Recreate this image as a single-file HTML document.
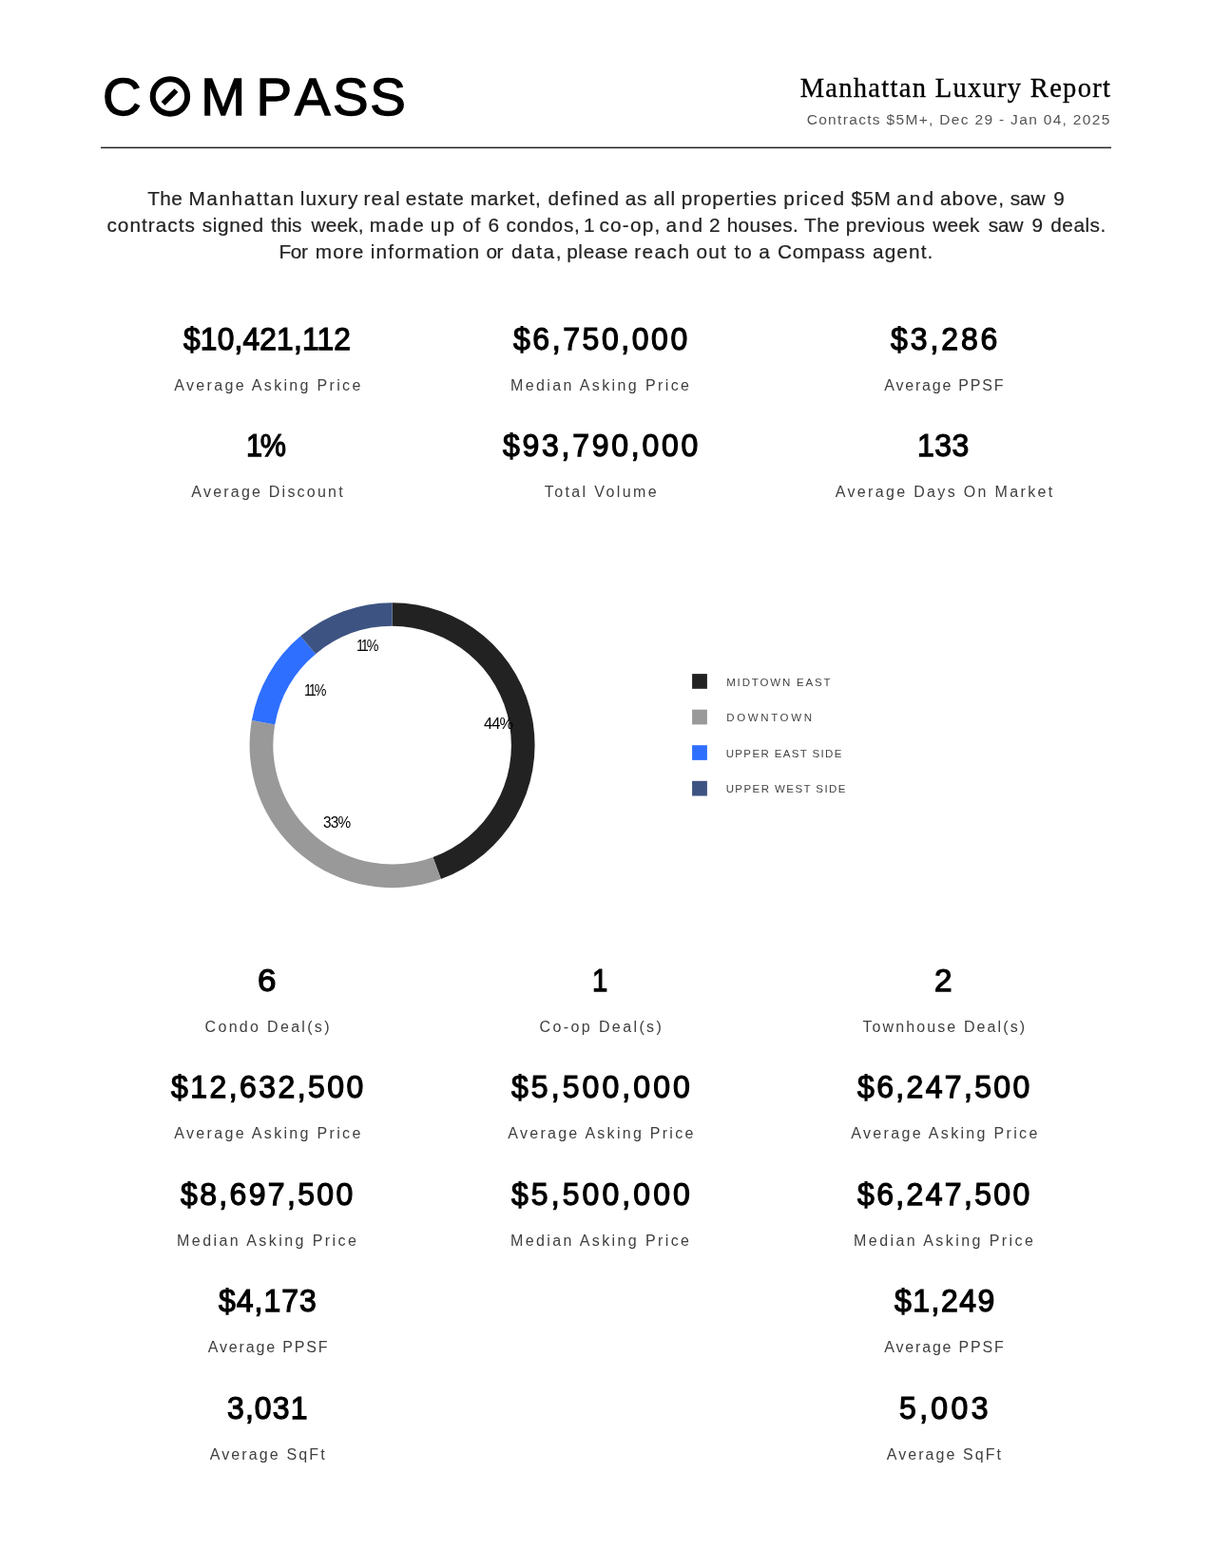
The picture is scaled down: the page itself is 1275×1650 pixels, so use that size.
<!DOCTYPE html>
<html lang="en">
<head>
<meta charset="utf-8">
<title>Manhattan Luxury Report</title>
<style>
html,body{margin:0;padding:0;background:#fff}
body{width:1275px;height:1650px;position:relative;overflow:hidden}
header,main,section,p,h1{margin:0;padding:0;display:block}
.t{position:absolute;white-space:nowrap;margin:0;font-kerning:normal;transform-origin:0 0}
.title{font:400 28.5px/34px "Liberation Serif", "Times New Roman", serif;color:#000;-webkit-text-stroke:0.35px #000;}
.sub{font:400 15.5px/20px "Liberation Sans", Arial, sans-serif;color:#555;}
.p{font:400 20.8px/28px "Liberation Sans", Arial, sans-serif;color:#222;-webkit-text-stroke:0.2px #222;}
.v{font:400 34px/40px "Liberation Sans", Arial, sans-serif;color:#000;-webkit-text-stroke:1.25px #000;}
.l{font:400 16px/20px "Liberation Sans", Arial, sans-serif;color:#404040;}
.d{font:400 16.8px/20px "Liberation Sans", Arial, sans-serif;color:#000;}
.g{font:400 11.5px/16px "Liberation Sans", Arial, sans-serif;color:#444;}
.w{display:inline-block;white-space:nowrap;transform-origin:0 0}
svg{position:absolute;left:0;top:0;overflow:visible}
</style>
</head>
<body>
<header>
<svg class="logo" width="1275" height="160" viewBox="0 0 1275 160" role="img" aria-label="COMPASS"><text transform="scale(1.01 1)" x="106.99 155.33 209.13 266.88 306.90 346.60 385.47" y="121.1" font-family="Liberation Sans, Arial, sans-serif" font-weight="400" font-size="55.8" fill="#000" stroke="#000" stroke-width="1.3" stroke-linejoin="miter">COMPASS</text><circle cx="178.9" cy="101.55" r="21.2" fill="#fff"/><circle cx="178.9" cy="101.55" r="18.2" fill="none" stroke="#000" stroke-width="6"/><path d="M169.6 107.1 L173.5 111.0 L187.4 97.1 L183.5 93.2 Z" fill="#000"/></svg>
<h1 class="t title" style="left:841.63px;top:76.00px;letter-spacing:1.305px;">Manhattan Luxury Report</h1>
<div class="t sub" style="left:848.67px;top:116.00px;letter-spacing:1.325px;">Contracts $5M+, Dec 29 - Jan 04, 2025</div>
<svg class="rule" width="1275" height="160" viewBox="0 0 1275 160"><rect x="106" y="154.65" width="1063" height="1.5" fill="#222"/></svg>
</header>
<main>
<p class="intro">
<span class="t p" style="left:155.18px;top:195.00px;"><span class="w" style="width:37.51px;letter-spacing:0.363px;">The</span> <span class="w" style="width:111.55px;letter-spacing:1.538px;">Manhattan</span> <span class="w" style="width:60.82px;letter-spacing:1.043px;">luxury</span> <span class="w" style="width:38.67px;letter-spacing:1.196px;">real</span> <span class="w" style="width:62.17px;letter-spacing:0.846px;">estate</span> <span class="w" style="width:75.87px;letter-spacing:0.785px;">market,</span> <span class="w" style="width:75.62px;letter-spacing:1.063px;">defined</span> <span class="w" style="width:23.82px;letter-spacing:0.732px;">as</span> <span class="w" style="width:23.57px;letter-spacing:1.005px;">all</span> <span class="w" style="width:101.82px;letter-spacing:0.862px;">properties</span> <span class="w" style="width:65.52px;letter-spacing:1.403px;">priced</span> <span class="w" style="width:41.57px;letter-spacing:0.370px;">$5M</span> <span class="w" style="width:40.22px;letter-spacing:2.157px;">and</span> <span class="w" style="width:67.95px;letter-spacing:0.911px;">above,</span> <span class="w" style="width:39.69px;letter-spacing:-0.059px;">saw</span> <span class="w" style="">9</span></span>
<span class="t p" style="left:112.45px;top:223.00px;"><span class="w" style="width:94.55px;letter-spacing:1.014px;">contracts</span> <span class="w" style="width:66.54px;letter-spacing:0.600px;">signed</span> <span class="w" style="width:36.74px;letter-spacing:0.027px;">this</span> <span class="w" style="width:55.40px;letter-spacing:0.123px;">week,</span> <span class="w" style="width:58.22px;letter-spacing:1.638px;">made</span> <span class="w" style="width:27.87px;letter-spacing:2.207px;">up</span> <span class="w" style="width:21.42px;letter-spacing:1.432px;">of</span> <span class="w" style="width:13.02px;">6</span> <span class="w" style="width:75.76px;letter-spacing:0.776px;">condos,</span> <span class="w" style="width:10.68px;">1</span> <span class="w" style="width:64.22px;letter-spacing:1.239px;">co-op,</span> <span class="w" style="width:39.92px;letter-spacing:1.957px;">and</span> <span class="w" style="width:12.87px;">2</span> <span class="w" style="width:75.59px;letter-spacing:0.355px;">houses.</span> <span class="w" style="width:37.85px;letter-spacing:0.563px;">The</span> <span class="w" style="width:85.84px;letter-spacing:0.647px;">previous</span> <span class="w" style="width:52.58px;letter-spacing:0.198px;">week</span> <span class="w" style="width:40.09px;letter-spacing:-0.059px;">saw</span> <span class="w" style="width:14.02px;">9</span> <span class="w" style="letter-spacing:0.485px;">deals.</span></span>
<span class="t p" style="left:293.48px;top:251.00px;"><span class="w" style="width:32.54px;letter-spacing:-0.337px;">For</span> <span class="w" style="width:52.22px;letter-spacing:1.051px;">more</span> <span class="w" style="width:115.87px;letter-spacing:1.138px;">information</span> <span class="w" style="width:20.82px;letter-spacing:-0.543px;">or</span> <span class="w" style="width:52.37px;letter-spacing:1.536px;">data,</span> <span class="w" style="width:65.22px;letter-spacing:0.650px;">please</span> <span class="w" style="width:59.47px;letter-spacing:1.459px;">reach</span> <span class="w" style="width:34.27px;letter-spacing:1.232px;">out</span> <span class="w" style="width:20.05px;letter-spacing:0.896px;">to</span> <span class="w" style="width:14.01px;">a</span> <span class="w" style="width:94.15px;letter-spacing:0.662px;">Compass</span> <span class="w" style="letter-spacing:1.100px;">agent.</span></span>
</p>
<section class="summary">
<div class="t v" style="left:192.73px;top:336.00px;letter-spacing:0.200px;transform:scaleX(0.9326);">$10,421,112</div>
<div class="t l" style="left:183.30px;top:396.00px;letter-spacing:2.329px;">Average Asking Price</div>
<div class="t v" style="left:258.65px;top:448.00px;letter-spacing:-2.500px;transform:scaleX(0.9000);">1%</div>
<div class="t l" style="left:201.30px;top:508.00px;letter-spacing:2.223px;">Average Discount</div>
<div class="t v" style="left:539.93px;top:336.00px;letter-spacing:2.755px;transform:scaleX(0.9400);">$6,750,000</div>
<div class="t l" style="left:537.05px;top:396.00px;letter-spacing:2.385px;">Median Asking Price</div>
<div class="t v" style="left:528.93px;top:448.00px;letter-spacing:2.929px;transform:scaleX(0.9400);">$93,790,000</div>
<div class="t l" style="left:572.75px;top:508.00px;letter-spacing:2.390px;">Total Volume</div>
<div class="t v" style="left:936.63px;top:336.00px;letter-spacing:3.108px;transform:scaleX(0.9400);">$3,286</div>
<div class="t l" style="left:930.30px;top:396.00px;letter-spacing:1.789px;">Average PPSF</div>
<div class="t v" style="left:965.29px;top:448.00px;letter-spacing:0.572px;transform:scaleX(0.9400);">133</div>
<div class="t l" style="left:878.70px;top:508.00px;letter-spacing:2.343px;">Average Days On Market</div>
</section>
<section class="chart">
<svg width="1275" height="1650" viewBox="0 0 1275 1650">
<path d="M412.60 634.15A150 150 0 0 1 463.90 925.10L455.46 901.89A125.3 125.3 0 0 0 412.60 658.85Z" fill="#222222"/>
<path d="M463.90 925.10A150 150 0 0 1 264.88 758.10L289.20 762.39A125.3 125.3 0 0 0 455.46 901.89Z" fill="#999999"/>
<path d="M264.88 758.10A150 150 0 0 1 316.18 669.24L332.06 688.16A125.3 125.3 0 0 0 289.20 762.39Z" fill="#2e6fff"/>
<path d="M316.18 669.24A150 150 0 0 1 412.60 634.15L412.60 658.85A125.3 125.3 0 0 0 332.06 688.16Z" fill="#3d5382"/>
</svg>
<div class="t d" style="left:509.34px;top:752.00px;letter-spacing:-0.900px;transform:scaleX(0.9723);">44%</div>
<div class="t d" style="left:340.42px;top:856.00px;letter-spacing:-0.900px;transform:scaleX(0.9156);">33%</div>
<div class="t d" style="left:320.25px;top:717.00px;letter-spacing:-2.400px;transform:scaleX(0.8500);">11%</div>
<div class="t d" style="left:375.35px;top:670.00px;letter-spacing:-2.400px;transform:scaleX(0.8500);">11%</div>
<svg class="legend" width="1275" height="1650" viewBox="0 0 1275 1650">
<rect x="728.1" y="709.1" width="15.8" height="15.7" fill="#222222"/>
<rect x="728.1" y="746.7" width="15.8" height="15.7" fill="#999999"/>
<rect x="728.1" y="784.2" width="15.8" height="15.7" fill="#2e6fff"/>
<rect x="728.1" y="821.8" width="15.8" height="15.7" fill="#3d5382"/>
</svg>
<div class="t g" style="left:764.20px;top:710.00px;letter-spacing:1.836px;">MIDTOWN EAST</div>
<div class="t g" style="left:764.20px;top:747.00px;letter-spacing:2.639px;">DOWNTOWN</div>
<div class="t g" style="left:763.65px;top:785.00px;letter-spacing:1.367px;">UPPER EAST SIDE</div>
<div class="t g" style="left:763.65px;top:822.00px;letter-spacing:1.425px;">UPPER WEST SIDE</div>
</section>
<section class="breakdown">
<div class="t v" style="left:271.31px;top:1011.00px;transform:scaleX(1.0300);">6</div>
<div class="t l" style="left:215.55px;top:1071.00px;letter-spacing:2.318px;">Condo Deal(s)</div>
<div class="t v" style="left:179.93px;top:1123.00px;letter-spacing:2.610px;transform:scaleX(0.9400);">$12,632,500</div>
<div class="t l" style="left:183.30px;top:1183.00px;letter-spacing:2.329px;">Average Asking Price</div>
<div class="t v" style="left:189.93px;top:1236.00px;letter-spacing:2.518px;transform:scaleX(0.9400);">$8,697,500</div>
<div class="t l" style="left:186.05px;top:1296.00px;letter-spacing:2.441px;">Median Asking Price</div>
<div class="t v" style="left:229.93px;top:1348.00px;letter-spacing:1.065px;transform:scaleX(0.9400);">$4,173</div>
<div class="t l" style="left:218.70px;top:1408.00px;letter-spacing:1.844px;">Average PPSF</div>
<div class="t v" style="left:238.89px;top:1461.00px;letter-spacing:1.176px;transform:scaleX(0.9400);">3,031</div>
<div class="t l" style="left:220.70px;top:1521.00px;letter-spacing:2.128px;">Average SqFt</div>
<div class="t v" style="left:622.68px;top:1011.00px;transform:scaleX(0.8600);">1</div>
<div class="t l" style="left:567.55px;top:1071.00px;letter-spacing:2.391px;">Co-op Deal(s)</div>
<div class="t v" style="left:537.63px;top:1123.00px;letter-spacing:3.298px;transform:scaleX(0.9400);">$5,500,000</div>
<div class="t l" style="left:534.30px;top:1183.00px;letter-spacing:2.277px;">Average Asking Price</div>
<div class="t v" style="left:537.63px;top:1236.00px;letter-spacing:3.298px;transform:scaleX(0.9400);">$5,500,000</div>
<div class="t l" style="left:537.05px;top:1296.00px;letter-spacing:2.385px;">Median Asking Price</div>
<div class="t v" style="left:983.28px;top:1011.00px;transform:scaleX(0.9800);">2</div>
<div class="t l" style="left:907.45px;top:1071.00px;letter-spacing:2.108px;">Townhouse Deal(s)</div>
<div class="t v" style="left:901.93px;top:1123.00px;letter-spacing:2.518px;transform:scaleX(0.9400);">$6,247,500</div>
<div class="t l" style="left:895.30px;top:1183.00px;letter-spacing:2.329px;">Average Asking Price</div>
<div class="t v" style="left:901.93px;top:1236.00px;letter-spacing:2.518px;transform:scaleX(0.9400);">$6,247,500</div>
<div class="t l" style="left:898.05px;top:1296.00px;letter-spacing:2.441px;">Median Asking Price</div>
<div class="t v" style="left:940.63px;top:1348.00px;letter-spacing:1.619px;transform:scaleX(0.9400);">$1,249</div>
<div class="t l" style="left:930.30px;top:1408.00px;letter-spacing:1.817px;">Average PPSF</div>
<div class="t v" style="left:946.29px;top:1461.00px;letter-spacing:3.570px;transform:scaleX(0.9400);">5,003</div>
<div class="t l" style="left:932.70px;top:1521.00px;letter-spacing:2.064px;">Average SqFt</div>
</section>
</main>
</body>
</html>
